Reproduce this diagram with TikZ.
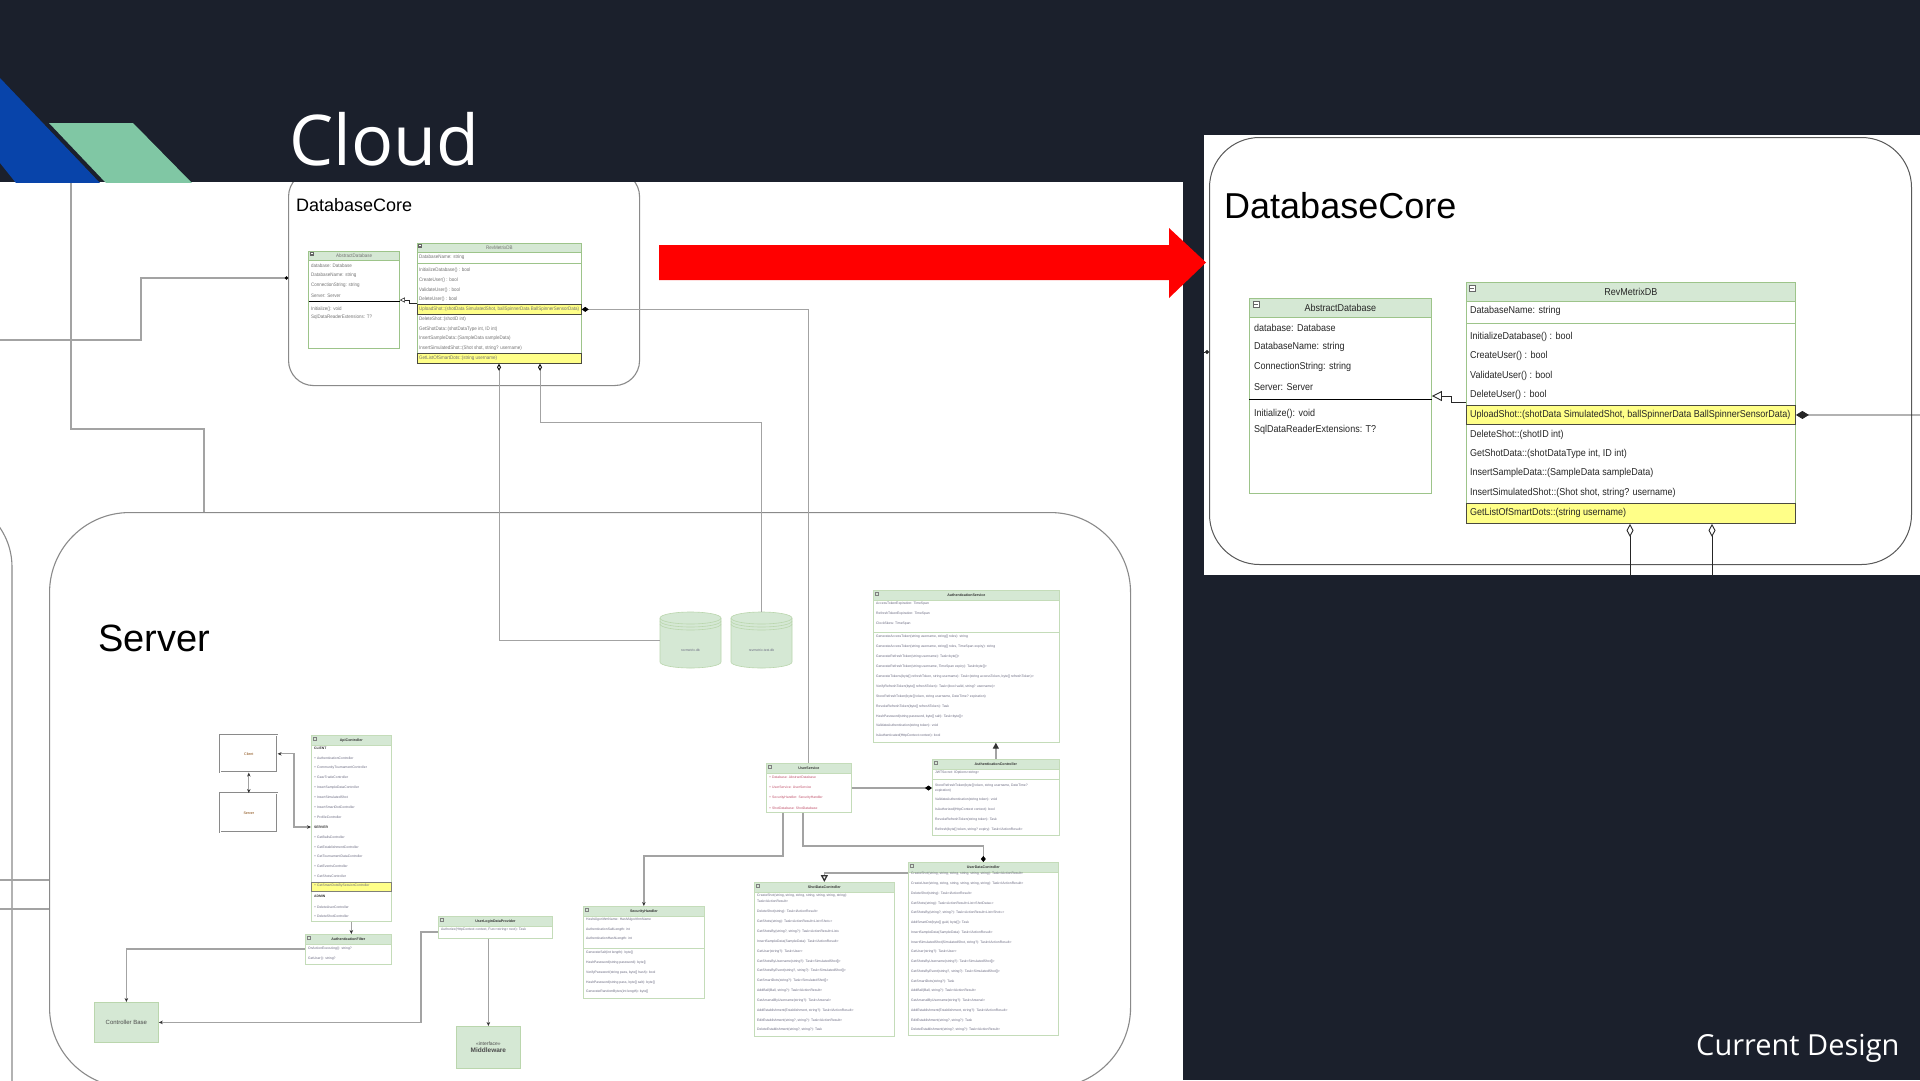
\documentclass[tikz,border=0pt]{standalone}
\usepackage{fontspec}
\setmainfont{Liberation Sans}
\newfontfamily\uifont{Open Sans}
\newfontfamily\umlfont{Liberation Sans}[FakeStretch=0.9]
\usetikzlibrary{arrows.meta}
\definecolor{darkbg}{RGB}{27,32,44}
\definecolor{logoblue}{RGB}{8,68,170}
\definecolor{logogreen}{RGB}{128,199,164}
\definecolor{umlgreen}{HTML}{D5E8D4}
\definecolor{umlborder}{HTML}{9DC48A}
\definecolor{ylw}{HTML}{FFFF88}
\definecolor{ylwborder}{HTML}{4A4A40}
\definecolor{linegray}{HTML}{A3A3A3}
\definecolor{boxgray}{HTML}{8A8A8A}
\definecolor{tinytext}{HTML}{6A6A80}
\definecolor{tinyred}{HTML}{C0506A}
\definecolor{redarrow}{RGB}{255,0,0}

\tikzset{
 dbln/.style={line width=0.9pt},
 dbtext/.style={text=black!85},
 inhtip/.style={-{Triangle[open,length=10pt,width=10pt]}},
 roundbox/.style={draw=boxgray, line width=1.1pt, anchor=north west, inner sep=0pt},
 umlbox/.style={draw=umlborder, fill=white, dbln, inner sep=0pt, anchor=north west},
 umlhead/.style={draw=umlborder, fill=umlgreen, dbln, inner sep=0pt, anchor=north west, font=\umlfont\fontsize{10}{11}\selectfont, dbtext},
 ylwbox/.style={draw=ylwborder, fill=ylw, dbln, inner sep=0pt, anchor=north west},
 umlrow/.style={anchor=west, inner sep=0pt, font=\umlfont\fontsize{10}{11}\selectfont, dbtext},
 dbtitle/.style={anchor=base west, inner sep=0pt, font=\fontsize{36}{40}\selectfont, text=black},
 umlicon/.style={draw=black!60, fill=white, minimum size=6pt, inner sep=0pt, dbln,
   path picture={\draw[black!60] ([xshift=1.2pt]path picture bounding box.west) -- ([xshift=-1.2pt]path picture bounding box.east);}},
 dbconn/.style={draw=black!85, dbln},
 gline/.style={draw=linegray, line width=1.3pt},
 garr/.style={-{Stealth[length=4pt,width=3.5pt,color=black!80]}},
 gboth/.style={{Stealth[length=4pt,width=3.5pt,color=black!80]}-{Stealth[length=4pt,width=3.5pt,color=black!80]}},
 tboxst/.style={draw=umlborder!60, fill=white, line width=0.7pt, anchor=north west, inner sep=0pt},
 theadst/.style={draw=umlborder!60, fill=umlgreen, line width=0.7pt, anchor=north west, inner sep=0pt, font=\bfseries\fontsize{3.6}{4}\selectfont, text=black!80},
 ticon/.style={draw=black!50, minimum size=3pt, inner sep=0pt, line width=0.4pt},
 trow/.style={anchor=west, inner sep=0pt, font=\fontsize{3.4}{4}\selectfont, text=tinytext},
 tsec/.style={anchor=west, inner sep=0pt, font=\bfseries\fontsize{3.4}{4}\selectfont, text=black!80},
 tsep/.style={draw=umlborder!60, line width=0.6pt},
 tylw/.style={draw=ylwborder!70, fill=ylw, line width=0.6pt, anchor=north west, inner sep=0pt},
 dblbox/.style={draw=boxgray, double, double distance=1.1pt, line width=0.6pt, anchor=north west, inner sep=0pt, font=\fontsize{3.6}{4}\selectfont, text=black!50!orange},
 gbox/.style={draw=umlborder!70, fill=umlgreen, line width=0.8pt, anchor=north west, inner sep=0pt, text=black!70},
 cylst/.style={draw=umlborder!70, fill=umlgreen, line width=0.6pt},
}

\newcommand\dbcontent[1]{%
 \node[dbtitle] (#1title) at (1224,218) {DatabaseCore};
 \node[umlbox, minimum width=182pt, minimum height=195pt] (#1abs) at (1249,298) {};
 \node[umlhead, minimum width=182pt, minimum height=19pt] (#1abshd) at (1249,298) {AbstractDatabase};
 \node[umlicon] (#1absic) at (1256,304) {};
 \node[umlrow] (#1a1) at (1254,328) {database: Database};
 \node[umlrow] (#1a2) at (1254,347) {DatabaseName: string};
 \node[umlrow] (#1a3) at (1254,367) {ConnectionString: string};
 \node[umlrow] (#1a4) at (1254,387) {Server: Server};
 \draw[black, dbln] (#1abs.west |- 0,399) -- (#1abs.east |- 0,399);
 \node[umlrow] (#1a5) at (1254,414) {Initialize(): void};
 \node[umlrow] (#1a6) at (1254,430) {SqlDataReaderExtensions: T?};
 \node[umlbox, minimum width=329pt, minimum height=241pt] (#1rev) at (1466,282) {};
 \node[umlhead, minimum width=329pt, minimum height=19pt] (#1revhd) at (1466,282) {RevMetrixDB};
 \node[umlicon] (#1revic) at (1472,288) {};
 \node[umlrow] (#1r1) at (1470,311) {DatabaseName: string};
 \draw[draw=umlborder, dbln] (#1rev.west |- 0,323) -- (#1rev.east |- 0,323);
 \node[umlrow] (#1r2) at (1470,337) {InitializeDatabase() : bool};
 \node[umlrow] (#1r3) at (1470,356) {CreateUser() : bool};
 \node[umlrow] (#1r4) at (1470,376) {ValidateUser() : bool};
 \node[umlrow] (#1r5) at (1470,395) {DeleteUser() : bool};
 \node[ylwbox, minimum width=329pt, minimum height=19pt] (#1up) at (1466,405) {};
 \node[umlrow] (#1r6) at (1470,415) {UploadShot::(shotData SimulatedShot, ballSpinnerData BallSpinnerSensorData)};
 \node[umlrow] (#1r7) at (1470,435) {DeleteShot::(shotID int)};
 \node[umlrow] (#1r8) at (1470,454) {GetShotData::(shotDataType int, ID int)};
 \node[umlrow] (#1r9) at (1470,473) {InsertSampleData::(SampleData sampleData)};
 \node[umlrow] (#1r10) at (1470,493) {InsertSimulatedShot::(Shot shot, string? username)};
 \node[ylwbox, minimum width=329pt, minimum height=20pt] (#1gl) at (1466,503) {};
 \node[umlrow] (#1r11) at (1470,513) {GetListOfSmartDots::(string username)};
 \draw[dbconn, inhtip] (#1rev.west |- 0,402) -- (1451,402) -- (1451,396) -- (#1abs.east |- 0,396);
}

\newcommand\tclass[6]{%
 \node[tboxst, minimum width=#4pt, minimum height=#5pt] (#1) at (#2,#3) {};
 \node[theadst, minimum width=#4pt, minimum height=10pt] (#1hd) at (#2,#3) {#6};
 \node[ticon] (#1ic) at ({#2+4},{#3+4}) {};
}

\newcommand\cylnode[4]{%
 \node[inner sep=0pt, minimum width=61pt, minimum height=56pt, anchor=north west] (#1) at (#2,#3) {};
 \draw[cylst] (#2,{#3+6}) -- (#2,{#3+50}) arc[start angle=180,end angle=0,x radius=30.5,y radius=6] -- ({#2+61},{#3+6}) arc[start angle=0,end angle=-180,x radius=30.5,y radius=6] -- cycle;
 \foreach \dy in {6,9,12} \draw[cylst, fill=none] (#2,{#3+\dy}) arc[start angle=180,end angle=0,x radius=30.5,y radius=6];
 \node[trow, anchor=center] (#1lbl) at ({#2+30.5},{#3+38}) {#4};
}

\begin{document}
\begin{tikzpicture}[x=1pt,y=-1pt]
\useasboundingbox (0,0) rectangle (1920,1080);
\fill[darkbg] (0,0) rectangle (1920,1080);
\fill[white] (0,182) rectangle (1183,1080);
\fill[white] (1204,135) rectangle (1920,575);

% ================= LEFT DIAGRAM =================
\begin{scope}
\clip (0,182) rectangle (1183,1080);

% outer containers
\node[roundbox, rounded corners=25pt, minimum width=351pt, minimum height=214pt] (sdb) at (288,171) {};
\node[roundbox, rounded corners=80pt, minimum width=1081pt, minimum height=575pt] (srvbox) at (49,512) {};
\draw[gline, draw=boxgray, line width=1.1pt] (-58,497) arc[start angle=-90, end angle=0, radius=70] -- (12,1090);
\node[anchor=base west, inner sep=0pt, font=\fontsize{38}{40}\selectfont] (srvlbl) at (98,651) {Server};

% small copy of DatabaseCore
\begin{scope}[shift={(-316,102)}, scale=0.5, transform shape,
  dbln/.style={line width=0.5pt}, dbtext/.style={text=black!55},
  inhtip/.style={-{Triangle[open,length=5pt,width=5pt]}}]
\dbcontent{s}
\end{scope}

% Client / Server
\node[dblbox, minimum width=57pt, minimum height=37pt] (client) at (220,735) {Client};
\node[dblbox, minimum width=57pt, minimum height=39pt] (server) at (220,793) {Server};

% ApiController
\tclass{api}{311}{735}{80}{186}{ApiController}
\node[tylw, minimum width=80pt, minimum height=9pt] (apihl) at (311,882) {};
\node[tsec] (api-s1) at (314,748) {CLIENT};
\foreach \txt [count=\i] in {{+ AuthenticationController},{+ CommunityTournamentController},{+ GearTradeController},{+ InsertSampleDataController},{+ InsertSimulatedShot},{+ InsertSmartDotController},{+ ProfileController}}
  \node[trow] (api-c\i) at (314,{758+(\i-1)*9.8}) {\txt};
\node[tsec] (api-s2) at (314,827) {SERVER};
\foreach \txt [count=\i] in {{+ GetBallsController},{+ GetEstablishmentController},{+ GetTournamentDataController},{+ GetEventsController},{+ GetShotsController},{+ GetSmartDotsBySessionController}}
  \node[trow] (api-v\i) at (314,{837+(\i-1)*9.8}) {\txt};
\node[tsec] (api-s3) at (314,896) {ADMIN};
\node[trow] (api-a1) at (314,907) {+ DeleteUserController};
\node[trow] (api-a2) at (314,916) {+ DeleteShotController};

% controller base helper
\tclass{cbx}{305}{934}{86}{30}{AuthenticationFilter}
\node[trow] (cbx-1) at (308,949) {OnActionExecuting(): string?};
\node[trow] (cbx-2) at (308,959) {GetUser(): string?};

\node[gbox, minimum width=64pt, minimum height=40pt, font=\fontsize{6}{7}\selectfont] (cbase) at (94,1002) {Controller Base};

% provider
\tclass{prov}{438}{916}{114}{22}{UserLoginDataProvider}
\node[trow] (prov-1) at (441,930) {Authorize(HttpContext context, Func<string> next): Task};
\node[gbox, minimum width=64pt, minimum height=42pt, align=center, font=\fontsize{5}{7}\selectfont] (mware) at (456,1026) {\textless\textless interface\textgreater\textgreater\\{\bfseries\fontsize{6.5}{8}\selectfont Middleware}};

% databases
\cylnode{cyl1}{660}{612}{revmetrix.db}
\cylnode{cyl2}{731}{612}{revmetrix-test.db}

% big service class
\tclass{auth}{873}{590}{186}{152}{AuthenticationService}
\foreach \txt [count=\i] in {{AccessTokenExpiration: TimeSpan},{RefreshTokenExpiration: TimeSpan},{ClockSkew: TimeSpan}}
  \node[trow] (auth-f\i) at (876,{604+(\i-1)*10}) {\txt};
\draw[tsep] (auth.west |- 0,632) -- (auth.east |- 0,632);
\foreach \txt [count=\i] in {{GenerateAccessToken(string username, string[] roles): string},{GenerateAccessToken(string username, string[] roles, TimeSpan expiry): string},{GenerateRefreshToken(string username): Task<byte[]>},{GenerateRefreshToken(string username, TimeSpan expiry): Task<byte[]>},{GenerateTokens(byte[] refreshToken, string username): Task<(string accessToken, byte[] refreshToken)>},{VerifyRefreshToken(byte[] refreshToken): Task<(bool valid, string? username)>},{StoreRefreshToken(byte[] token, string username, DateTime? expiration)},{RevokeRefreshToken(byte[] refreshToken): Task},{HashPassword(string password, byte[] salt): Task<byte[]>},{ValidateAuthentication(string token): void},{IsAuthenticated(HttpContext context): bool}}
  \node[trow] (auth-m\i) at (876,{637+(\i-1)*9.9}) {\txt};

% controller under it
\tclass{authc}{932}{759}{127}{76}{AuthenticationController}
\node[trow] (authc-f1) at (935,773) {JWTSecret: IOptions<string>};
\draw[tsep] (authc.west |- 0,779) -- (authc.east |- 0,779);
\node[trow] (authc-m1) at (935,786) {StoreRefreshToken(byte[] token, string username, DateTime?};
\node[trow] (authc-m1b) at (935,791) {expiration)};
\foreach \txt [count=\i] in {{ValidateAuthentication(string token): void},{IsAuthorized(HttpContext context): bool},{RevokeRefreshToken(string token): Task},{Refresh(byte[] token, string? expiry): Task<IActionResult>}}
  \node[trow] (authc-m\i x) at (935,{800+(\i-1)*10}) {\txt};

% user service
\tclass{login}{766}{763}{85}{49}{UserService}
\foreach \txt [count=\i] in {{+ Database: AbstractDatabase},{+ UserService: UserService},{+ SecurityHandler: SecurityHandler},{+ ShotDatabase: ShotDatabase}}
  \node[trow, text=tinyred] (login-\i) at (769,{777+(\i-1)*10.3}) {\txt};

% security handler
\tclass{sec}{583}{906}{121}{92}{SecurityHandler}
\foreach \txt [count=\i] in {{HashAlgorithmName: HashAlgorithmName},{AuthenticationSaltLength: int},{AuthenticationHashLength: int}}
  \node[trow] (sec-f\i) at (586,{920+(\i-1)*9.5}) {\txt};
\draw[tsep] (sec.west |- 0,948) -- (sec.east |- 0,948);
\foreach \txt [count=\i] in {{GenerateSalt(int length): byte[]},{HashPassword(string password): byte[]},{VerifyPassword(string pass, byte[] hash): bool},{HashPassword(string pass, byte[] salt): byte[]},{GenerateRandomBytes(int length): byte[]}}
  \node[trow] (sec-m\i) at (586,{953+(\i-1)*9.75}) {\txt};

% shot data controller
\tclass{sd}{754}{882}{140}{154}{ShotDataController}
\node[trow] (sd-0) at (757,896) {CreateShot(string, string, string, string, string, string, string):};
\node[trow] (sd-0b) at (757,901) {Task<IActionResult>};
\foreach \txt [count=\i] in {{DeleteShot(string): Task<IActionResult>},{GetShots(string): Task<ActionResult<List<Shot>>>},{GetShotsBy(string?, string?): Task<ActionResult<List>>},{InsertSampleData(SampleData): Task<IActionResult>},{GetUser(string?): Task<User>},{GetShotsByUsername(string?): Task<SimulatedShot[]>},{GetShotsByEvent(string?, string?): Task<SimulatedShot[]>},{GetSmartDots(string?): Task<SimulatedShot[]>},{AddBall(Ball, string?): Task<IActionResult>},{GetArsenalByUsername(string?): Task<Arsenal>},{AddEstablishment(Establishment, string?): Task<IActionResult>},{EditEstablishment(string?, string?): Task<IActionResult>},{DeleteEstablishment(string?, string?): Task}}
  \node[trow] (sd-\i) at (757,{912+(\i-1)*9.83}) {\txt};

% user data controller
\tclass{ud}{908}{862}{150}{173}{UserDataController}
\foreach \txt [count=\i] in {{CreateShot(string, string, string, string, string, string): Task<IActionResult>},{CreateUser(string, string, string, string, string, string): Task<IActionResult>},{DeleteShot(string): Task<IActionResult>},{GetShots(string): Task<ActionResult<List<ShotData>>>},{GetShotsBy(string?, string?): Task<ActionResult<List<Shot>>>},{AddSmartDot(byte[] guid, byte[]): Task},{InsertSampleData(SampleData): Task<IActionResult>},{InsertSimulatedShot(SimulatedShot, string?): Task<IActionResult>},{GetUser(string?): Task<User>},{GetShotsByUsername(string?): Task<SimulatedShot[]>},{GetShotsByEvent(string?, string?): Task<SimulatedShot[]>},{GetSmartDots(string?): Task},{AddBall(Ball, string?): Task<IActionResult>},{GetArsenalByUsername(string?): Task<Arsenal>},{AddEstablishment(Establishment, string?): Task<IActionResult>},{EditEstablishment(string?, string?): Task},{DeleteEstablishment(string?, string?): Task<IActionResult>}}
  \node[trow] (ud-\i) at (911,{874+(\i-1)*9.75}) {\txt};

% ---- connectors ----
\coordinate (lin1) at (-5,340);
\coordinate (lin2) at (71,170);
\coordinate (lin3) at (-5,880);
\coordinate (lin4) at (-5,909);
\draw[gline, -{Circle[length=3pt,color=black]}] (lin1) -- (141,340) -- (141,278) -- (sdb.west |- 0,278);
\draw[gline] (lin2) -- (71,429) -- (204,429) -- (204,0 |- srvbox.north);
\draw[gline] (lin3) -- (srvbox.west |- lin3);
\draw[gline] (lin4) -- (srvbox.west |- lin4);
\draw[gline, line width=0.9pt, {Diamond[length=7pt,width=5pt,color=black]}-] (sup.east) -| (login.north);
\draw[gline, line width=0.9pt, {Diamond[open,length=7pt,width=4pt,color=black]}-] (499,0 |- sgl.south) |- (cyl1.west);
\draw[gline, line width=0.9pt, {Diamond[open,length=7pt,width=4pt,color=black]}-] (540,0 |- sgl.south) -- (540,422) -| (cyl2.north);
\draw[gline, gboth, line width=1pt] (client.south) -- (server.north);
\draw[gline, gboth] (client.east) -- (294,0 |- client.east) -- (294,827) -- (api.west |- 0,827);
\draw[gline, garr] (api.south) -- (api.south |- cbx.north);
\draw[gline, garr] (cbx.west |- 0,949) -| (cbase.north);
\draw[gline, garr] (prov.west |- 0,932) -- (421,932) |- (cbase.east);
\draw[gline, garr] (mware.north |- prov.south) -- (mware.north);
\draw[gline, -{Diamond[length=7pt,width=5pt,color=black]}] (login.east |- 0,788) -- (authc.west |- 0,788);
\draw[gline, -{Triangle[length=6pt,width=6pt,color=black!80]}] (authc.north) -- (authc.north |- auth.south);
\draw[gline, garr] (783,0 |- login.south) -- (783,856) -| (sec.north);
\draw[gline, -{Diamond[length=6pt,width=5pt,color=black]}] (803,0 |- login.south) -- (803,846) -| (ud.north);
\draw[gline, -{Triangle[open,length=7pt,width=7pt,color=black!80]}] (ud.west |- 0,873) -| (sd.north);
\end{scope}

% ================= RIGHT ZOOMED PANEL =================
\begin{scope}
\clip (1204,135) rectangle (1920,575);
\node[roundbox, draw=black!65, rounded corners=50pt, minimum width=702pt, minimum height=427pt, line width=1pt] (bbox) at (1209,137) {};
\dbcontent{b}
\coordinate (bexit) at (1925,415);
\coordinate (bout1) at (1630,580);
\coordinate (bout2) at (1712,580);
\coordinate (bin) at (1185,352);
\draw[dbconn, {Diamond[length=13pt,width=8pt]}-] (bup.east) -- (bexit);
\draw[dbconn, {Diamond[open,length=13pt,width=7pt]}-] (1630,0 |- bgl.south) -- (bout1);
\draw[dbconn, {Diamond[open,length=13pt,width=7pt]}-] (1712,0 |- bgl.south) -- (bout2);
\draw[dbconn, -{Circle[length=4pt]}] (bin) -- (bbox.west |- bin);
\end{scope}

% ================= SLIDE DECORATION =================
\begin{scope}
\clip (0,0) rectangle (1183,182);
\fill[logoblue] (0,78) -- (100,183) -- (16,183) -- (0,163) -- cycle;
\fill[logogreen] (49,123) -- (133,123) -- (192,183) -- (106,183) -- cycle;
\end{scope}
\node[anchor=base west, inner sep=0pt, text=white, font=\uifont\fontsize{70}{80}\selectfont] (cloud) at (289,165) {Cloud};
\node[anchor=base west, inner sep=0pt, text=white, font=\uifont\fontsize{29}{34}\selectfont] (curdesign) at (1696,1055) {Current Design};

% red arrow from the small DatabaseCore to the enlarged one
\fill[redarrow] (659,245) -- (1169,245) -- (1169,228) -- (1206,262.5) -- (1169,298) -- (1169,280) -- (659,280) -- cycle;
\end{tikzpicture}
\end{document}
